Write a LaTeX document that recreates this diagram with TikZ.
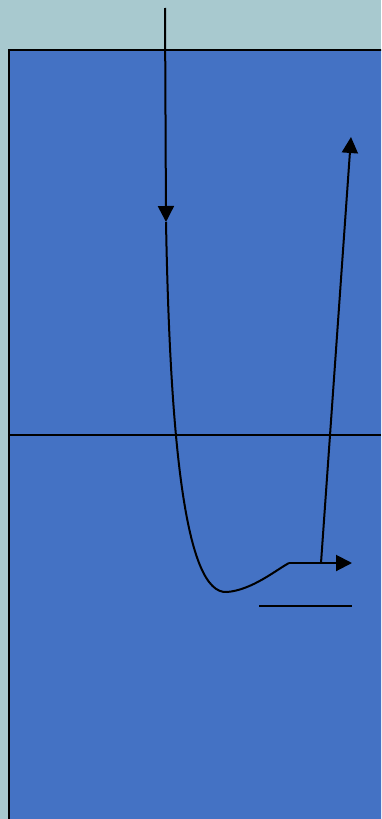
\documentclass[tikz,border=0pt]{standalone}
\usetikzlibrary{arrows.meta}
\definecolor{bgteal}{HTML}{A8C9CF}
\definecolor{boxblue}{HTML}{4472C4}
\tikzset{
  ln/.style={line width=2pt, black},
  tip/.style={-{Triangle[length=16pt,width=16pt]}}
}
\begin{document}
\begin{tikzpicture}[x=1pt,y=-1pt]
\useasboundingbox (0,0) rectangle (381,819);
\clip (0,0) rectangle (381,819);
\fill[bgteal] (0,0) rectangle (381,819);
\draw[line width=2pt, fill=boxblue] (9,50) rectangle (390,830);
\draw[ln] (9,435) -- (381,435);
\coordinate (top) at (165,8);
\coordinate (mid) at (166,222);
\coordinate (low) at (227,592);
\coordinate (knee) at (289,563);
\coordinate (out) at (352,563);
\coordinate (base) at (321,563);
\coordinate (up) at (351,137);
\coordinate (s1) at (259,606);
\coordinate (s2) at (352,606);
\draw[ln, tip] (top) -- (mid);
\draw[ln] (mid) .. controls (170,440) and (185,595) .. (low)
  .. controls (252,590) and (276,570) .. (knee);
\draw[ln, tip] (knee) -- (out);
\draw[ln, tip] (base) -- (up);
\draw[ln] (s1) -- (s2);
\end{tikzpicture}
\end{document}
